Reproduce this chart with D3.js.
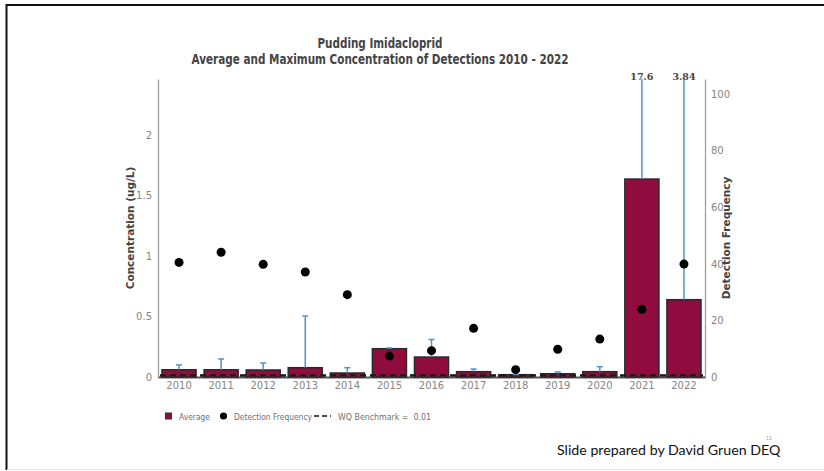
<!DOCTYPE html>
<html>
<head>
<meta charset="utf-8">
<script src="https://cdn.jsdelivr.net/npm/d3@7"></script>
<style>
  html, body { margin: 0; padding: 0; background: #fff; }
  svg { display: block; }
</style>
</head>
<body>
<svg id="chart"></svg>
<script>
const width = 824;
const height = 471;

// Chart data
const years = ["2010", "2011", "2012", "2013", "2014", "2015", "2016", "2017", "2018", "2019", "2020", "2021", "2022"];
const avgConc = [0.06, 0.06, 0.058, 0.077, 0.033, 0.234, 0.165, 0.044, 0.019, 0.027, 0.044, 1.636, 0.639];
const maxConc = [0.10, 0.149, 0.116, 0.504, 0.077, 0.24, 0.31, 0.066, 0.02, 0.041, 0.085, 17.6, 3.84];
const detFreq = [40.5, 44.1, 39.8, 37.1, 29.1, 7.4, 9.3, 17.2, 2.6, 9.8, 13.4, 23.9, 39.9];
const concTicks = [0, 0.5, 1, 1.5, 2];
const freqTicks = [0, 20, 40, 60, 80, 100];
const benchmark = 0.01;

const plot = { left: 158, right: 705, top: 79, bottom: 377 };

const svg = d3.select("#chart").attr("width", width).attr("height", height);

// slide frame
svg.append("line").attr("x1", 6).attr("x2", width).attr("y1", 5).attr("y2", 5)
    .attr("stroke", "#111").attr("stroke-width", 2);
svg.append("line").attr("x1", 6.5).attr("x2", 6.5).attr("y1", 4).attr("y2", 470)
    .attr("stroke", "#111").attr("stroke-width", 2);
svg.append("line").attr("x1", 7).attr("x2", width).attr("y1", 469.5).attr("y2", 469.5)
    .attr("stroke", "#e2e2e2").attr("stroke-width", 1);

const x = d3.scaleBand().domain(years).range([plot.left, plot.right]).paddingInner(0.19).paddingOuter(0.095);
const y = d3.scaleLinear().domain([0, 2.463]).range([plot.bottom, plot.top]);
const y2 = d3.scaleLinear().domain([0, 105.3]).range([plot.bottom, plot.top]);

const tickColor = "#858585";
const tickFont = "DejaVu Sans, Verdana, sans-serif";

// axes
const leftAxis = svg.append("g").attr("transform", `translate(${plot.left},0)`)
    .call(d3.axisLeft(y).tickValues(concTicks).tickFormat(d3.format("")).tickSize(0).tickPadding(6));
const rightAxis = svg.append("g").attr("transform", `translate(${plot.right},0)`)
    .call(d3.axisRight(y2).tickValues(freqTicks).tickSize(0).tickPadding(6));
const bottomAxis = svg.append("g").attr("transform", `translate(0,${plot.bottom})`)
    .call(d3.axisBottom(x).tickSize(0).tickPadding(5));

[leftAxis, rightAxis].forEach(a => {
    a.select(".domain").attr("stroke", "#9a9a9a").attr("stroke-width", 1.2);
});
bottomAxis.select(".domain").attr("stroke", "#555").attr("stroke-width", 2);
[leftAxis, rightAxis, bottomAxis].forEach(a => {
    a.selectAll("text").attr("fill", tickColor).attr("font-family", tickFont).attr("font-size", 10);
});

// benchmark line
svg.append("line")
    .attr("x1", plot.left + 2).attr("x2", plot.right - 2)
    .attr("y1", y(benchmark)).attr("y2", y(benchmark))
    .attr("stroke", "#222").attr("stroke-width", 2).attr("stroke-dasharray", "6,4");

// bars
svg.append("g").selectAll("rect")
    .data(years)
    .join("rect")
    .attr("x", d => x(d))
    .attr("width", x.bandwidth())
    .attr("y", (d, i) => y(avgConc[i]))
    .attr("height", (d, i) => y(0) - y(avgConc[i]))
    .attr("fill", "#900c3e")
    .attr("stroke", "#2a2a2a")
    .attr("stroke-width", 1.5);

// benchmark dashes on top of bars
svg.append("line")
    .attr("x1", plot.left + 2).attr("x2", plot.right - 2)
    .attr("y1", y(benchmark) - 0.5).attr("y2", y(benchmark) - 0.5)
    .attr("stroke", "#1a1a1a").attr("stroke-width", 2).attr("stroke-dasharray", "6,4");

// error bars (average to maximum), clipped at the top of the plot
const errColor = "#4f93cf";
const errG = svg.append("g");
years.forEach((yr, i) => {
    const cx = x(yr) + x.bandwidth() / 2;
    const topV = Math.min(maxConc[i], y.domain()[1]);
    errG.append("line")
        .attr("x1", cx).attr("x2", cx)
        .attr("y1", y(avgConc[i])).attr("y2", y(topV))
        .attr("stroke", errColor).attr("stroke-width", 1.5);
    if (maxConc[i] <= y.domain()[1]) {
        errG.append("line")
            .attr("x1", cx - 3).attr("x2", cx + 3)
            .attr("y1", y(topV)).attr("y2", y(topV))
            .attr("stroke", errColor).attr("stroke-width", 1.5);
    } else {
        svg.append("text")
            .attr("x", cx).attr("y", plot.top + 1)
            .attr("text-anchor", "middle")
            .attr("font-family", "DejaVu Serif, serif")
            .attr("font-weight", "bold")
            .attr("font-size", 9.5)
            .attr("fill", "#444")
            .text(maxConc[i]);
    }
});

// detection frequency points
svg.append("g").selectAll("circle")
    .data(years)
    .join("circle")
    .attr("cx", d => x(d) + x.bandwidth() / 2)
    .attr("cy", (d, i) => y2(detFreq[i]))
    .attr("r", 4.5)
    .attr("fill", "#000");

// titles
const titleColor = "#444";
svg.append("text").attr("x", 380).attr("y", 48).attr("text-anchor", "middle")
    .attr("font-family", tickFont).attr("font-weight", "bold").attr("font-size", 13.5)
    .attr("textLength", 125).attr("lengthAdjust", "spacingAndGlyphs")
    .attr("fill", titleColor).text("Pudding Imidacloprid");
svg.append("text").attr("x", 380).attr("y", 64).attr("text-anchor", "middle")
    .attr("font-family", tickFont).attr("font-weight", "bold").attr("font-size", 13.5)
    .attr("textLength", 377).attr("lengthAdjust", "spacingAndGlyphs")
    .attr("fill", titleColor).text("Average and Maximum Concentration of Detections 2010 - 2022");

svg.append("text")
    .attr("transform", `translate(134,${(plot.top + plot.bottom) / 2}) rotate(-90)`)
    .attr("text-anchor", "middle")
    .attr("font-family", tickFont).attr("font-weight", "bold").attr("font-size", 10.5)
    .attr("fill", titleColor).text("Concentration (ug/L)");
svg.append("text")
    .attr("transform", `translate(730,${(plot.top + plot.bottom) / 2 + 10}) rotate(-90)`)
    .attr("text-anchor", "middle")
    .attr("font-family", tickFont).attr("font-weight", "bold").attr("font-size", 10.5)
    .attr("fill", titleColor).text("Detection Frequency");

// legend
const legend = svg.append("g").attr("font-family", tickFont).attr("font-size", 8).attr("fill", "#707070");
legend.append("rect").attr("x", 165.5).attr("y", 413).attr("width", 6).attr("height", 6)
    .attr("fill", "#900c3e").attr("stroke", "#333").attr("stroke-width", 1);
legend.append("text").attr("x", 179).attr("y", 419.5)
    .attr("textLength", 31).attr("lengthAdjust", "spacingAndGlyphs").text("Average");
legend.append("circle").attr("cx", 223.5).attr("cy", 416).attr("r", 3.6).attr("fill", "#000");
legend.append("text").attr("x", 234).attr("y", 419.5)
    .attr("textLength", 78).attr("lengthAdjust", "spacingAndGlyphs").text("Detection Frequency");
legend.append("line").attr("x1", 314).attr("x2", 331).attr("y1", 416).attr("y2", 416)
    .attr("stroke", "#111").attr("stroke-width", 1.5).attr("stroke-dasharray", "5,3");
legend.append("text").attr("x", 338).attr("y", 419.5).attr("xml:space", "preserve")
    .attr("textLength", 93).attr("lengthAdjust", "spacingAndGlyphs")
    .text("WQ Benchmark =  " + benchmark);

// footer
svg.append("text").attr("x", 557).attr("y", 455)
    .attr("font-family", "Lato, 'Open Sans', sans-serif").attr("font-size", 14.2)
    .attr("fill", "#111").text("Slide prepared by David Gruen DEQ");
svg.append("text").attr("x", 766).attr("y", 440)
    .attr("font-family", "Lato, sans-serif").attr("font-size", 5)
    .attr("fill", "#999").text("11");
</script>
</body>
</html>
